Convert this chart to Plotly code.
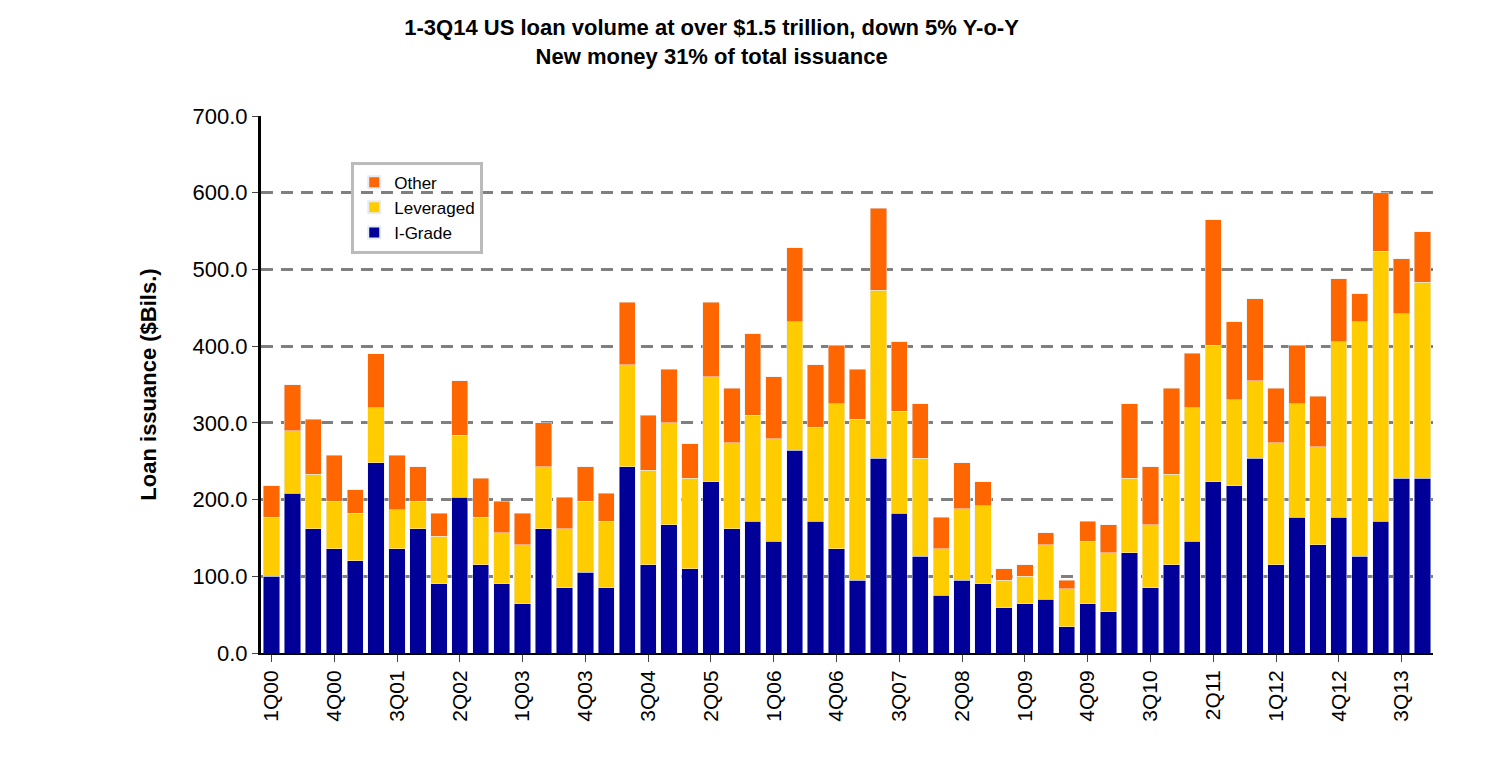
import plotly.graph_objects as go

# stacked tops: I-Grade, I-Grade+Leveraged, total
ig = [100, 208, 162, 136, 120, 248, 136, 162, 90, 203, 115, 90, 64, 162, 85, 105, 85, 243, 115, 167,
      110, 223, 162, 172, 146, 264, 172, 136, 95, 254, 182, 126, 75, 95, 90, 59, 64, 70, 34, 64,
      54, 131, 85, 115, 146, 223, 218, 254, 115, 177, 141, 177, 126, 172, 228, 228]
lev_top = [177, 290, 233, 198, 182, 320, 187, 198, 152, 284, 177, 157, 141, 243, 162, 198, 172, 376, 238, 300,
           228, 360, 274, 310, 279, 432, 294, 325, 305, 473, 315, 254, 136, 188, 192, 95, 100, 141, 84, 146,
           131, 228, 167, 233, 320, 401, 330, 355, 274, 325, 269, 406, 432, 524, 442, 483]
total = [218, 350, 305, 258, 213, 390, 258, 243, 182, 355, 228, 198, 182, 300, 203, 243, 208, 457, 310, 370,
         273, 457, 345, 416, 360, 528, 376, 401, 370, 580, 406, 325, 177, 248, 223, 110, 115, 157, 95, 172,
         167, 325, 243, 345, 391, 565, 432, 462, 345, 401, 335, 488, 468, 600, 514, 549]
tick_labels = ["1Q00", "4Q00", "3Q01", "2Q02", "1Q03", "4Q03", "3Q04", "2Q05", "1Q06", "4Q06",
               "3Q07", "2Q08", "1Q09", "4Q09", "3Q10", "2Q11", "1Q12", "4Q12", "3Q13"]

x = list(range(len(ig)))
lev = [b - a for a, b in zip(ig, lev_top)]
other = [b - a for a, b in zip(lev_top, total)]

fig = go.Figure()
fig.add_trace(go.Bar(x=x, y=ig, name="I-Grade", marker_color="#000099"))
fig.add_trace(go.Bar(x=x, y=lev, name="Leveraged", marker_color="#FFCC00"))
fig.add_trace(go.Bar(x=x, y=other, name="Other", marker_color="#FF6600"))

fig.update_layout(
    barmode="stack", bargap=0.22,
    width=1497, height=772,
    plot_bgcolor="white", paper_bgcolor="white",
    font=dict(family="Arial, Liberation Sans", color="black"),
    title=dict(text="<b>1-3Q14 US loan volume at over $1.5 trillion, down 5% Y-o-Y<br>New money 31% of total issuance</b>",
               x=0.47, xanchor="center", y=0.965, yanchor="top", font=dict(size=22)),
    margin=dict(l=253, r=72, t=108, b=127, autoexpand=False),
    legend=dict(x=0.077, y=0.915, xanchor="left", yanchor="top", traceorder="reversed",
                bordercolor="#bbbbbb", borderwidth=3, font=dict(size=17),
                itemsizing="constant", itemwidth=30, entrywidth=125,
                bgcolor="rgba(255,255,255,0)"),
    showlegend=True,
)
fig.update_xaxes(tickmode="array", tickvals=list(range(0, 56, 3)), ticktext=tick_labels,
                 tickangle=-90, tickfont=dict(size=21), range=[-0.5, 55.5], automargin=False,
                 showline=True, linecolor="black", linewidth=2, ticks="outside", ticklen=7)
fig.update_yaxes(range=[0, 700], dtick=100, tickformat=".1f", tickfont=dict(size=22), automargin=False,
                 showgrid=True, gridcolor="#7f7f7f", griddash="12px,8px", gridwidth=3,
                 showline=True, linecolor="black", linewidth=3, ticks="outside", ticklen=6,
                 title=dict(text="<b>Loan issuance ($Bils.)</b>", font=dict(size=22), standoff=30))

fig.write_html("out.html")
